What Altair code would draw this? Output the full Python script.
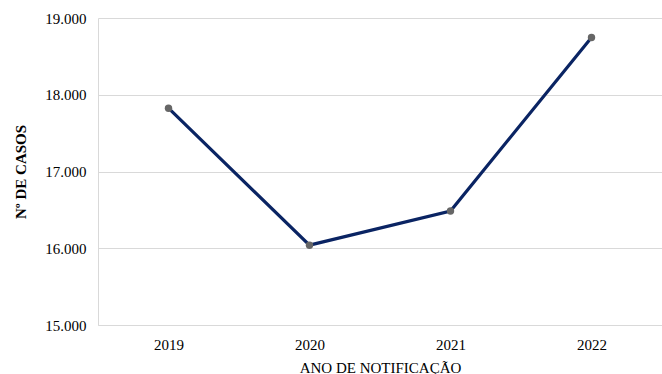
import altair as alt
import pandas as pd

anos = ["2019", "2020", "2021", "2022"]
casos = [17825, 16040, 16485, 18745]

df = pd.DataFrame({"ano": anos, "casos": casos})

FONT = "Times New Roman"

x = alt.X("ano:O", scale=alt.Scale(type="point", padding=0.5),
          axis=alt.Axis(title="ANO DE NOTIFICAÇÃO", labelAngle=0, ticks=False,
                        labelPadding=12, titlePadding=8, labelFontSize=15,
                        titleFontSize=15, titleFontWeight="normal",
                        labelFont=FONT, titleFont=FONT,
                        domainColor="#d9d9d9", labelColor="#000", titleColor="#000",
                        grid=False))
y = alt.Y("casos:Q", scale=alt.Scale(domain=[15000, 19000], nice=False, zero=False),
          axis=alt.Axis(title="Nº DE CASOS", values=[15000, 16000, 17000, 18000, 19000],
                        labelExpr="replace(format(datum.value, ',.0f'), ',', '.')",
                        ticks=False, labelPadding=12, labelFontSize=15,
                        labelFont=FONT, titleFont=FONT,
                        titleFontSize=15, titleFontWeight="bold",
                        titleX=-78, titleBaseline="middle",
                        domainColor="#d9d9d9", gridColor="#d9d9d9",
                        labelColor="#000", titleColor="#000"))

line = alt.Chart(df).mark_line(color="#0a2463", strokeWidth=3.2).encode(x=x, y=y)
pts = alt.Chart(df).mark_circle(color="#666666", size=55, opacity=1).encode(x=x, y=y)

chart = (line + pts).properties(
    width=564, height=307,
    autosize=alt.AutoSizeParams(type="none"),
    padding={"left": 98, "top": 18, "right": 0, "bottom": 49},
).configure_view(stroke=None)

chart.save("out.html", embed_options={"renderer": "svg", "actions": False})
